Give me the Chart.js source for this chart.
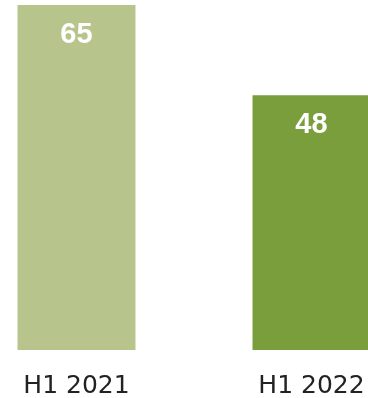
<!DOCTYPE html>
<html>
<head>
<meta charset="utf-8">
<script src="https://cdn.jsdelivr.net/npm/chart.js@4"></script>
<style>
  html, body { margin: 0; padding: 0; background: #fff; overflow: hidden; }
  body { width: 368px; height: 398px; position: relative; }
  #wrap { position: absolute; left: -41px; top: 0; width: 470px; height: 422px; }
</style>
</head>
<body>
<div id="wrap"><canvas id="c"></canvas></div>
<script>
const categories = ['H1 2021', 'H1 2022'];
const values = [65, 48];
const barColors = ['#B7C58D', '#7B9E3C'];

// White value labels drawn inside the top of each bar
const valueLabels = {
  id: 'valueLabels',
  afterDatasetsDraw(chart) {
    const ctx = chart.ctx;
    const meta = chart.getDatasetMeta(0);
    ctx.save();
    ctx.fillStyle = '#ffffff';
    ctx.font = 'bold 29px "Liberation Sans", Arial, sans-serif';
    ctx.textAlign = 'center';
    ctx.textBaseline = 'middle';
    meta.data.forEach((bar, i) => {
      ctx.fillText(String(values[i]), bar.x, bar.y + 30);
    });
    ctx.restore();
  }
};

new Chart(document.getElementById('c'), {
  type: 'bar',
  data: {
    labels: categories,
    datasets: [{
      data: values,
      backgroundColor: barColors,
      borderWidth: 0,
      categoryPercentage: 1,
      barPercentage: 0.502
    }]
  },
  options: {
    responsive: true,
    maintainAspectRatio: false,
    animation: false,
    layout: { padding: { top: 5, left: 0, right: 0, bottom: 0 } },
    plugins: { legend: { display: false }, tooltip: { enabled: false } },
    scales: {
      x: {
        grid: { display: false, drawTicks: false },
        border: { display: false },
        ticks: {
          color: '#222222',
          padding: 21,
          font: { family: '"DejaVu Sans", Verdana, sans-serif', size: 25 }
        }
      },
      y: {
        display: false,
        min: 0,
        max: 65
      }
    }
  },
  plugins: [valueLabels]
});
</script>
</body>
</html>
